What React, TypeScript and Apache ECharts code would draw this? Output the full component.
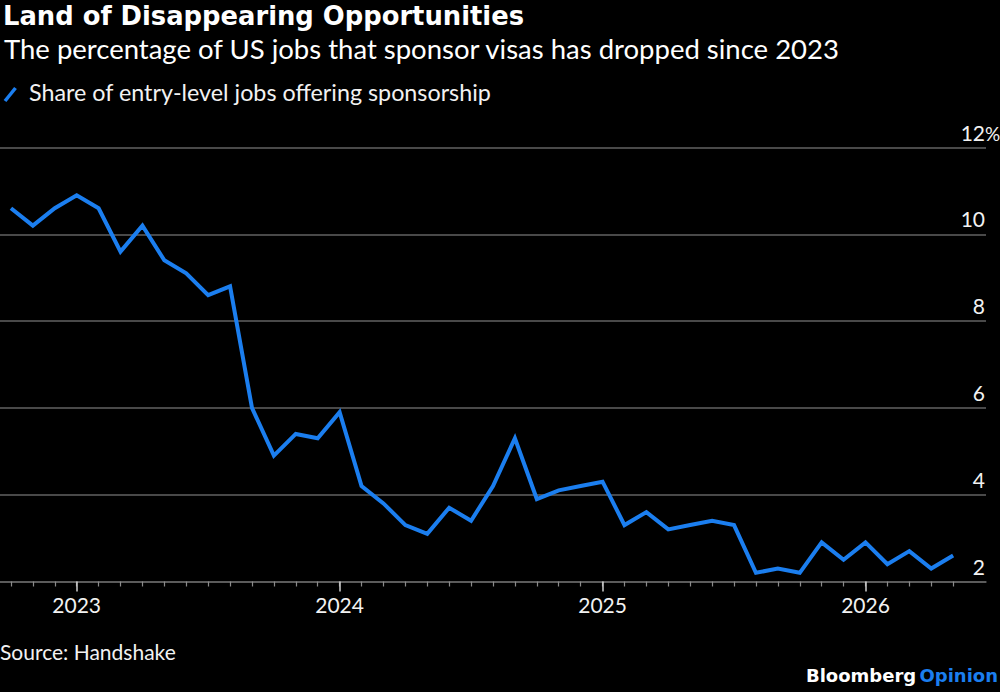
import React, { useEffect, useRef } from "react";
import * as echarts from "echarts";

// Monthly observations, Oct 2022 through May 2026 (one spare slot at the end of the axis)
const months = [
  "2022-10", "2022-11", "2022-12",
  "2023-01", "2023-02", "2023-03", "2023-04", "2023-05", "2023-06",
  "2023-07", "2023-08", "2023-09", "2023-10", "2023-11", "2023-12",
  "2024-01", "2024-02", "2024-03", "2024-04", "2024-05", "2024-06",
  "2024-07", "2024-08", "2024-09", "2024-10", "2024-11", "2024-12",
  "2025-01", "2025-02", "2025-03", "2025-04", "2025-05", "2025-06",
  "2025-07", "2025-08", "2025-09", "2025-10", "2025-11", "2025-12",
  "2026-01", "2026-02", "2026-03", "2026-04", "2026-05", "2026-06",
];

// Share of entry-level jobs offering visa sponsorship, %
const share = [
  10.6, 10.2, 10.6,
  10.9, 10.6, 9.6, 10.2, 9.4, 9.1,
  8.6, 8.8, 6.0, 4.9, 5.4, 5.3,
  5.9, 4.2, 3.8, 3.3, 3.1, 3.7,
  3.4, 4.2, 5.3, 3.9, 4.1, 4.2,
  4.3, 3.3, 3.6, 3.2, 3.3, 3.4,
  3.3, 2.2, 2.3, 2.2, 2.9, 2.5,
  2.9, 2.4, 2.7, 2.3, 2.6,
];

const yMin = 2;
const yMax = 12;
const yStep = 2;

const BLUE = "#1b7eef";
const GRID = "#626262";
const FONT = "Lato, 'Noto Sans', sans-serif";
const BOLD_FONT = "'DejaVu Sans', Verdana, sans-serif";

const lastDataIndex = share.length - 1;
const isJanuary = (v: string) => v.endsWith("-01");

export default function App() {
  const ref = useRef<HTMLDivElement>(null);

  useEffect(() => {
    document.body.style.margin = "0";
    document.body.style.background = "#000";
    if (!ref.current) return;
    const chart = echarts.init(ref.current, undefined, { renderer: "svg" });

    const gridTop = 147.5;
    const labelPadBottom = 5;

    chart.setOption({
      animation: false,
      backgroundColor: "#000",
      grid: { left: 0, right: 14, top: gridTop, bottom: 110.5, containLabel: false },
      xAxis: [
        {
          // monthly minor ticks and the baseline
          type: "category",
          data: months,
          boundaryGap: true,
          axisLine: { show: true, lineStyle: { color: GRID, width: 1.5 } },
          axisTick: {
            show: true,
            alignWithLabel: true,
            length: 5,
            interval: (i: number) => i <= lastDataIndex,
            lineStyle: { color: "#8a8a8a", width: 1.2 },
          },
          axisLabel: { show: false },
          splitLine: { show: false },
        },
        {
          // January ticks with year labels
          type: "category",
          data: months,
          boundaryGap: true,
          position: "bottom",
          axisLine: { show: false },
          axisTick: {
            show: true,
            alignWithLabel: true,
            length: 10,
            interval: (_i: number, v: string) => isJanuary(v),
            lineStyle: { color: "#d0d0d0", width: 1.5 },
          },
          axisLabel: {
            show: true,
            interval: (_i: number, v: string) => isJanuary(v),
            formatter: (v: string) => v.slice(0, 4),
            color: "#f2f2f2",
            fontFamily: FONT,
            fontSize: 21,
            margin: 12,
          },
          splitLine: { show: false },
        },
      ],
      yAxis: {
        type: "value",
        position: "right",
        min: yMin,
        max: yMax,
        interval: yStep,
        axisLine: { show: false },
        axisTick: { show: false },
        splitLine: { show: true, lineStyle: { color: GRID, width: 1.5 } },
        axisLabel: {
          inside: true,
          margin: 1,
          verticalAlign: "bottom",
          padding: [0, 0, labelPadBottom, 0],
          color: "#f2f2f2",
          fontFamily: FONT,
          fontSize: 21,
          formatter: (v: number) => String(v),
        },
      },
      series: [
        {
          name: "Share of entry-level jobs offering sponsorship",
          type: "line",
          xAxisIndex: 0,
          data: share,
          showSymbol: false,
          symbol: "none",
          lineStyle: { color: BLUE, width: 4, join: "miter" },
          itemStyle: { color: BLUE },
        },
      ],
      graphic: [
        {
          type: "text",
          left: 3,
          top: 3,
          style: {
            text: "Land of Disappearing Opportunities",
            fill: "#ffffff",
            font: `bold 25.8px ${BOLD_FONT}`,
          },
        },
        {
          type: "text",
          left: 4,
          top: 34,
          style: {
            text: "The percentage of US jobs that sponsor visas has dropped since 2023",
            fill: "#ffffff",
            font: `27.5px ${FONT}`,
          },
        },
        {
          type: "line",
          shape: { x1: 5, y1: 101, x2: 15.5, y2: 88 },
          style: { stroke: BLUE, lineWidth: 3.5 },
        },
        {
          type: "text",
          left: 29,
          top: 80,
          style: {
            text: "Share of entry-level jobs offering sponsorship",
            fill: "#f2f2f2",
            font: `23.3px ${FONT}`,
          },
        },
        {
          // unit sign hanging past the top tick label
          type: "text",
          x: 985,
          y: gridTop - labelPadBottom,
          style: {
            text: "%",
            fill: "#f2f2f2",
            font: `19px ${FONT}`,
            align: "left",
            verticalAlign: "bottom",
          },
        },
        {
          type: "text",
          left: 0,
          top: 641,
          style: {
            text: "Source: Handshake",
            fill: "#f2f2f2",
            font: `21px ${FONT}`,
          },
        },
        {
          type: "text",
          right: 2,
          top: 666,
          style: {
            text: "{b|Bloomberg} {o|Opinion}",
            rich: {
              b: { fill: "#ffffff", fontFamily: BOLD_FONT, fontWeight: "bold", fontSize: 18 },
              o: { fill: BLUE, fontFamily: BOLD_FONT, fontWeight: "bold", fontSize: 18 },
            },
          },
        },
      ],
    });

    return () => chart.dispose();
  }, []);

  return <div ref={ref} style={{ width: 1000, height: 692, background: "#000" }} />;
}
